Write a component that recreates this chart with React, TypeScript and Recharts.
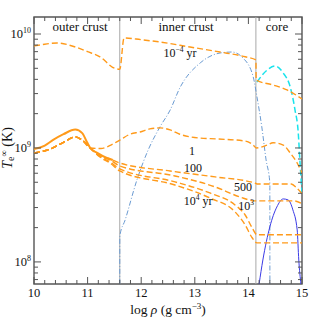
import { LineChart, Line, XAxis, YAxis, ReferenceLine, ReferenceArea } from 'recharts'

// log rho ticks (every 0.2, labelled on integers)
const xTicks = [
  10, 10.2, 10.4, 10.6, 10.8, 11, 11.2, 11.4, 11.6, 11.8, 12, 12.2, 12.4, 12.6, 12.8, 13,
  13.2, 13.4, 13.6, 13.8, 14, 14.2, 14.4, 14.6, 14.8, 15,
]
// temperature ticks (K), labelled on decades
const yTicks = [
  7e7, 8e7, 9e7, 1e8, 2e8, 3e8, 4e8, 5e8, 6e8, 7e8, 8e8, 9e8, 1e9, 2e9, 3e9, 4e9, 5e9, 6e9,
  7e9, 8e9, 9e9, 1e10,
]
const yDomain = [6.4e7, 1.41e10]
const crustEdges = [11.6, 14.14]

// t = 1e-4 yr
const rhoEarly = [10.0, 10.2, 10.43, 10.77, 11.0, 11.23, 11.5, 11.6, 11.68, 12.0, 12.35, 12.91, 13.47, 13.94, 14.14, 14.145, 14.46, 14.72, 15.0]
const tEarly = [7.85e9, 8.13e9, 8.34e9, 7.69e9, 7.0e9, 6.31e9, 5.01e9, 4.9e9, 9.23e9, 8.91e9, 8.51e9, 7.69e9, 6.95e9, 6.31e9, 5.92e9, 3.94e9, 3.57e9, 3.23e9, 2.69e9]

// t = 1 yr
const rhoOne = [10.0, 10.3, 10.55, 10.77, 10.9, 11.05, 11.25, 11.45, 11.6, 11.79, 11.98, 12.16, 12.35, 12.54, 12.72, 13.1, 13.41, 13.94, 14.09, 14.15, 14.35, 14.46, 14.65, 14.78, 14.91, 15.0]
const tOne = [9.04e8, 9.77e8, 1.12e9, 1.25e9, 1.17e9, 1.0e9, 9.89e8, 1.07e9, 1.17e9, 1.32e9, 1.38e9, 1.47e9, 1.5e9, 1.44e9, 1.32e9, 1.22e9, 1.2e9, 1.15e9, 1.06e9, 1.0e9, 1.06e9, 1.11e9, 1.06e9, 9.04e8, 7.38e8, 6.03e8]

// solid outer-crust curve
const rhoSolid = [10.0, 10.2, 10.35, 10.55, 10.77, 10.9, 10.99, 11.05, 11.18, 11.36, 11.47]
const tSolid = [9.77e8, 1.05e9, 1.17e9, 1.32e9, 1.45e9, 1.35e9, 1.12e9, 1.0e9, 9.04e8, 8.17e8, 7.85e8]

// t = 100 yr
const rho100 = [10.0, 10.3, 10.55, 10.77, 10.9, 11.05, 11.23, 11.42, 11.6, 12.54, 13.38, 14.12, 14.16, 14.8, 14.9, 15.0]
const t100 = [9.04e8, 9.77e8, 1.12e9, 1.25e9, 1.17e9, 1.0e9, 8.51e8, 8.02e8, 7.38e8, 6.28e8, 5.57e8, 4.93e8, 4.83e8, 4.83e8, 4.47e8, 3.98e8]

// t = 500 yr
const rho500 = [10.0, 10.3, 10.55, 10.77, 10.9, 11.05, 11.23, 11.42, 11.6, 12.63, 13.38, 13.84, 14.12, 14.85, 15.0]
const t500 = [9.04e8, 9.77e8, 1.12e9, 1.25e9, 1.17e9, 1.0e9, 8.51e8, 7.85e8, 6.95e8, 5.68e8, 4.55e8, 3.72e8, 3.43e8, 3.43e8, 3.24e8]

// t = 1e3 yr
const rho1e3 = [10.0, 10.3, 10.55, 10.77, 10.9, 11.05, 11.23, 11.42, 11.6, 12.63, 13.28, 13.75, 13.94, 14.07, 14.16, 15.0]
const t1e3 = [9.04e8, 9.77e8, 1.12e9, 1.25e9, 1.17e9, 1.0e9, 8.41e8, 7.53e8, 6.55e8, 5.04e8, 4.03e8, 3.16e8, 2.58e8, 1.99e8, 1.73e8, 1.73e8]

// t = 1e4 yr
const rho1e4 = [10.0, 10.3, 10.55, 10.77, 10.9, 11.05, 11.23, 11.42, 11.6, 12.63, 13.28, 13.75, 13.94, 14.07, 14.16, 15.0]
const t1e4 = [9.04e8, 9.77e8, 1.12e9, 1.25e9, 1.17e9, 1.0e9, 8.32e8, 7.38e8, 6.28e8, 4.73e8, 3.64e8, 2.75e8, 2.11e8, 1.63e8, 1.47e8, 1.47e8]

// blue dash-dot (inner crust)
const rhoBlue = [11.6, 11.601, 11.7, 11.92, 12.13, 12.35, 12.54, 12.72, 13.1, 13.47, 13.69, 13.9, 14.09, 14.16, 14.25, 14.33, 14.4, 14.401]
const tBlue = [6.4e7, 1.69e8, 2.33e8, 5.24e8, 9.6e8, 1.53e9, 2.15e9, 3.36e9, 5.57e9, 6.81e9, 6.95e9, 6.15e9, 4.2e9, 2.8e9, 1.53e9, 7.85e8, 4.93e8, 6.4e7]

// cyan dashed (core)
const rhoCyan = [14.16, 14.35, 14.5, 14.65, 14.78, 14.87, 14.93, 14.96, 15.0]
const tCyan = [3.79e9, 4.83e9, 5.24e9, 4.55e9, 3.43e9, 2.15e9, 1.36e9, 7.85e8, 4.03e8]

// blue solid (core)
const rhoCore = [14.2, 14.27, 14.4, 14.53, 14.65, 14.74, 14.83, 14.91, 14.94, 14.98]
const tCore = [6.4e7, 1.04e8, 2.03e8, 3.03e8, 3.57e8, 3.5e8, 2.86e8, 1.91e8, 1.04e8, 6.4e7]

const toPoints = (rho: number[], t: number[]) => rho.map((r, i) => ({ x: r, y: t[i] }))

const ORANGE = '#ff9a1a'
const AXIS = '#555'
const FONT = '"Liberation Serif", "DejaVu Serif", serif'
const PLOT_TOP = 17
const PLOT_RIGHT = 302

function XTick({ x, y, payload }: any) {
  const v = payload.value
  const major = Math.abs(v - Math.round(v)) < 1e-6
  const len = major ? 7 : 4
  return (
    <g>
      <line x1={x} y1={y} x2={x} y2={y - len} stroke={AXIS} />
      <line x1={x} y1={PLOT_TOP} x2={x} y2={PLOT_TOP + len} stroke={AXIS} />
      {major && (
        <text x={x} y={y + 13} textAnchor="middle" fontSize={12.5} fontFamily={FONT} fill="#111">
          {Math.round(v)}
        </text>
      )}
    </g>
  )
}

function YTick({ x, y, payload }: any) {
  const exp = Math.log10(payload.value)
  const major = Math.abs(exp - Math.round(exp)) < 1e-6
  const len = major ? 7 : 4
  return (
    <g>
      <line x1={x} y1={y} x2={x + len} y2={y} stroke={AXIS} />
      <line x1={PLOT_RIGHT} y1={y} x2={PLOT_RIGHT - len} y2={y} stroke={AXIS} />
      {major && (
        <text x={x - 3} y={y + 4} textAnchor="end" fontSize={12.5} fontFamily={FONT} fill="#111">
          10
          <tspan dy={-5} fontSize={8}>
            {Math.round(exp)}
          </tspan>
        </text>
      )}
    </g>
  )
}

const txt = { fontFamily: FONT, fontSize: 13, fill: '#111' }
const lbl = { fontFamily: FONT, fontSize: 12, fill: '#111' }

export default function App() {
  return (
    <div style={{ position: 'absolute', left: 0, top: 0, width: 319, height: 319, background: '#fff' }}>
      <LineChart width={319} height={319} margin={{ top: PLOT_TOP, right: 17, bottom: 0, left: 0 }}>
        <XAxis
          type="number"
          dataKey="x"
          domain={[10, 15]}
          ticks={xTicks}
          interval={0}
          height={35}
          tickSize={0}
          tickMargin={0}
          tickLine={false}
          axisLine={false}
          tick={<XTick />}
          allowDataOverflow
        />
        <YAxis
          type="number"
          dataKey="y"
          scale="log"
          domain={yDomain}
          ticks={yTicks}
          interval={0}
          width={34}
          tickSize={0}
          tickMargin={0}
          tickLine={false}
          axisLine={false}
          tick={<YTick />}
          allowDataOverflow
        />
        <ReferenceArea x1={10} x2={15} y1={yDomain[0]} y2={yDomain[1]} fill="none" stroke={AXIS} strokeWidth={1.4} />
        {crustEdges.map((e) => (
          <ReferenceLine key={e} x={e} stroke="#a8a8a8" strokeWidth={1} />
        ))}
        <Line data={toPoints(rhoBlue, tBlue)} dataKey="y" type="monotone" stroke="#6b9bd2" strokeWidth={1} strokeDasharray="5 2 1 2" dot={false} isAnimationActive={false} />
        <Line data={toPoints(rhoCyan, tCyan)} dataKey="y" type="monotone" stroke="#19e3ec" strokeWidth={1.5} strokeDasharray="6 3" dot={false} isAnimationActive={false} />
        <Line data={toPoints(rhoCore, tCore)} dataKey="y" type="monotone" stroke="#3a3ae6" strokeWidth={1} dot={false} isAnimationActive={false} />
        <Line data={toPoints(rhoSolid, tSolid)} dataKey="y" type="monotone" stroke={ORANGE} strokeWidth={2} dot={false} isAnimationActive={false} />
        <Line data={toPoints(rho1e4, t1e4)} dataKey="y" type="monotone" stroke={ORANGE} strokeWidth={1.4} strokeDasharray="6 3" dot={false} isAnimationActive={false} />
        <Line data={toPoints(rho1e3, t1e3)} dataKey="y" type="monotone" stroke={ORANGE} strokeWidth={1.4} strokeDasharray="6 3" dot={false} isAnimationActive={false} />
        <Line data={toPoints(rho500, t500)} dataKey="y" type="monotone" stroke={ORANGE} strokeWidth={1.4} strokeDasharray="6 3" dot={false} isAnimationActive={false} />
        <Line data={toPoints(rho100, t100)} dataKey="y" type="monotone" stroke={ORANGE} strokeWidth={1.4} strokeDasharray="6 3" dot={false} isAnimationActive={false} />
        <Line data={toPoints(rhoOne, tOne)} dataKey="y" type="monotone" stroke={ORANGE} strokeWidth={1.4} strokeDasharray="6 3" dot={false} isAnimationActive={false} />
        <Line data={toPoints(rhoEarly, tEarly)} dataKey="y" type="monotone" stroke={ORANGE} strokeWidth={1.4} strokeDasharray="6 3" dot={false} isAnimationActive={false} />
      </LineChart>
      <svg width={319} height={319} style={{ position: 'absolute', left: 0, top: 0, pointerEvents: 'none' }}>
        <text x={80} y={31} textAnchor="middle" {...txt}>outer crust</text>
        <text x={186} y={31} textAnchor="middle" {...txt}>inner crust</text>
        <text x={277} y={31} textAnchor="middle" {...txt}>core</text>
        <text x={180} y={57} textAnchor="middle" {...lbl}>
          10<tspan dy={-5} fontSize={7.5}>−4</tspan>
          <tspan dy={5}> yr</tspan>
        </text>
        <text x={192} y={155} textAnchor="middle" {...lbl}>1</text>
        <text x={193} y={172} textAnchor="middle" {...lbl}>100</text>
        <text x={243} y={191} textAnchor="middle" {...lbl}>500</text>
        <text x={246} y={210} textAnchor="middle" {...lbl}>
          10<tspan dy={-5} fontSize={7.5}>3</tspan>
        </text>
        <text x={198} y={205} textAnchor="middle" {...lbl}>
          10<tspan dy={-5} fontSize={7.5}>4</tspan>
          <tspan dy={5}> yr</tspan>
        </text>
        <text x={168} y={314} textAnchor="middle" {...txt} fontSize={13.5}>
          log <tspan fontStyle="italic">ρ</tspan> (g cm<tspan dy={-5} fontSize={9}>−3</tspan>
          <tspan dy={5}>)</tspan>
        </text>
        <text transform="translate(12,148) rotate(-90)" textAnchor="middle" {...txt} fontSize={14}>
          <tspan fontStyle="italic">T</tspan>
          <tspan dy={2} fontSize={10}>e</tspan>
          <tspan dy={-7} fontSize={9}>∞</tspan>
          <tspan dy={5}> (K)</tspan>
        </text>
      </svg>
    </div>
  )
}
